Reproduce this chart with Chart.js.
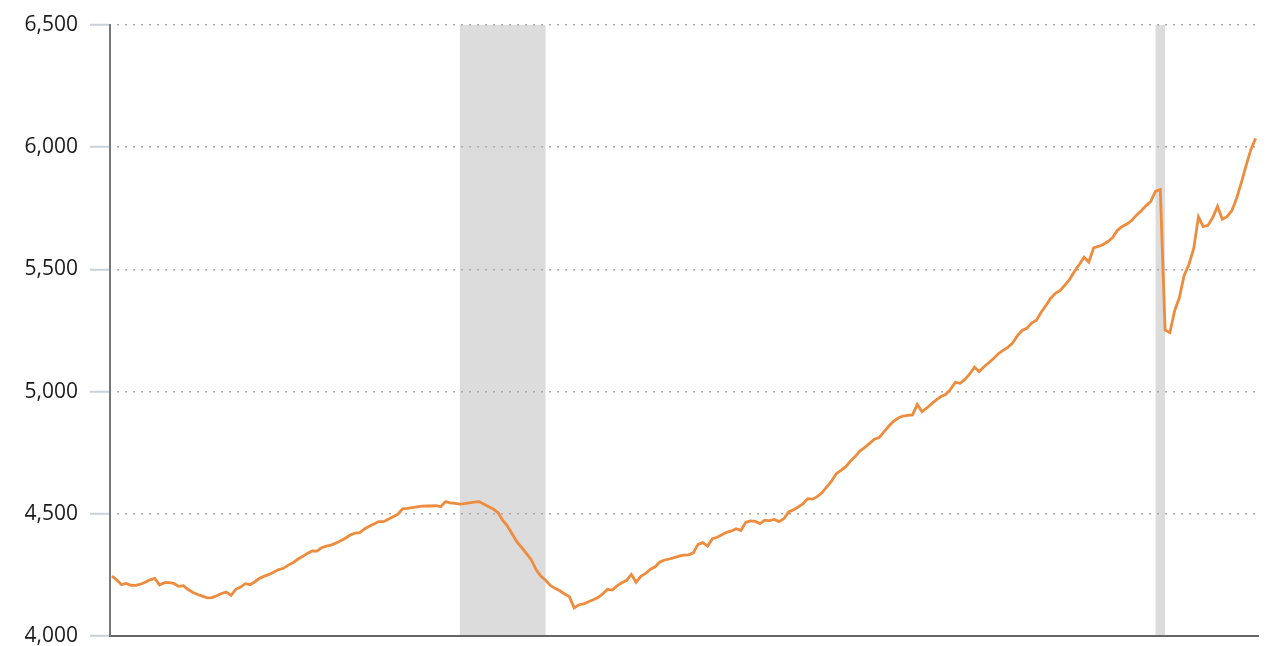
<!DOCTYPE html>
<html>
<head>
<meta charset="utf-8">
<script src="https://cdn.jsdelivr.net/npm/chart.js@4"></script>
<style>
  html, body { margin: 0; padding: 0; background: #fff; }
</style>
</head>
<body>
<canvas id="chart" width="1280" height="646"></canvas>
<script>
// monthly series, first month shown
const firstMonth = "2001-11";

const values = [
    4245, 4230, 4210, 4215, 4207, 4207, 4212, 4220, 4230, 4236,
    4209, 4218, 4218, 4215, 4203, 4206, 4190, 4178, 4170, 4163,
    4156, 4157, 4165, 4174, 4180, 4166, 4191, 4200, 4214, 4210,
    4222, 4236, 4245, 4252, 4262, 4272, 4277,
    4290, 4300, 4314, 4325, 4338, 4348, 4347, 4361, 4368, 4372,
    4380, 4390, 4400, 4413, 4421, 4423, 4438, 4449, 4458, 4468,
    4468, 4478, 4488, 4498, 4520, 4522, 4525, 4528, 4531, 4532,
    4532, 4533, 4529, 4550, 4545, 4543, 4540, 4542, 4545, 4548, 4550,
    4540, 4530, 4520, 4505, 4474, 4450, 4417, 4385, 4362, 4337,
    4312, 4272, 4245, 4228, 4207, 4195, 4185, 4172, 4161, 4115,
    4128, 4131, 4140, 4148, 4157, 4172, 4191, 4188, 4205, 4218,
    4228, 4252, 4220, 4244, 4256, 4273, 4283, 4303,
    4311, 4315, 4321, 4327, 4331, 4332, 4340, 4375, 4382, 4367,
    4398, 4404, 4414, 4424, 4430, 4439, 4432, 4465, 4471, 4469,
    4460, 4474, 4472, 4477, 4468, 4480, 4508, 4516, 4528, 4540,
    4562, 4560, 4570, 4586, 4610, 4634, 4664, 4678, 4693, 4716,
    4735, 4758, 4772, 4788, 4805, 4812, 4835, 4858, 4878, 4892,
    4900, 4903, 4905, 4948, 4918, 4933, 4950, 4966, 4980, 4989,
    5010, 5038, 5034, 5050, 5072, 5100, 5082, 5102, 5118, 5135,
    5155, 5169, 5181, 5199, 5228, 5250, 5259, 5280, 5292, 5325,
    5352, 5382, 5402, 5414, 5436, 5460, 5492, 5520, 5550, 5530,
    5588, 5594, 5602, 5614, 5630, 5660, 5676, 5686, 5700, 5722,
    5740, 5760, 5778, 5820, 5826,
    5252, 5241, 5330, 5385, 5475, 5520, 5585, 5715, 5675, 5680,
    5712, 5758, 5705, 5716, 5740, 5790, 5855, 5925, 5990, 6036
];

const recessionStarts = ["2007-12", "2020-02"];
const recessionEnds = ["2009-06", "2020-04"];

const yTicks = [4000, 4500, 5000, 5500, 6000, 6500];

// month labels "YYYY-MM", one per value
const months = [];
let yr = +firstMonth.slice(0, 4), mo = +firstMonth.slice(5, 7);
for (let i = 0; i < values.length; i++) {
    months.push(yr + "-" + String(mo).padStart(2, "0"));
    mo++;
    if (mo > 12) { mo = 1; yr++; }
}

const recessionShade = {
    id: "recessionShade",
    beforeDraw(chart) {
        const { ctx, chartArea, scales } = chart;
        ctx.save();
        ctx.fillStyle = "#dcdcdc";
        for (let i = 0; i < recessionStarts.length; i++) {
            const x1 = scales.x.getPixelForValue(months.indexOf(recessionStarts[i]));
            const x2 = scales.x.getPixelForValue(months.indexOf(recessionEnds[i]));
            ctx.fillRect(x1, chartArea.top, x2 - x1, chartArea.bottom - chartArea.top);
        }
        ctx.restore();
    }
};

new Chart(document.getElementById("chart").getContext("2d"), {
    type: "line",
    data: {
        datasets: [
            {
                label: "Value",
                data: values.map((v, i) => ({ x: i, y: v })),
                borderColor: "#ee8c3d",
                borderWidth: 2.8,
                pointRadius: 0,
                tension: 0,
                fill: false,
            },
        ],
    },
    options: {
        responsive: false,
        animation: false,
        devicePixelRatio: 1,
        layout: { padding: { top: 25, right: 22, bottom: 10, left: 0 } },
        plugins: {
            legend: { display: false },
            tooltip: { enabled: false },
        },
        scales: {
            x: {
                type: "linear",
                min: -0.4,
                max: 240.5,
                afterFit(scale) { scale.height = 0; },
                ticks: { display: false },
                grid: { display: false, drawTicks: false },
                border: { display: true, color: "#666", width: 2 },
            },
            y: {
                min: 4000,
                max: 6500,
                afterFit(scale) {
                    scale.width = 110;
                    scale.paddingTop = 0;
                    scale.paddingBottom = 0;
                },
                afterBuildTicks(scale) { scale.ticks = yTicks.map(v => ({ value: v })); },
                ticks: {
                    padding: 12,
                    color: "#1a1a1a",
                    font: { family: "'Open Sans'", size: 21 },
                    callback: v => v.toLocaleString("en-US"),
                },
                grid: {
                    color: "#a8a8a8",
                    lineWidth: 1.5,
                    tickLength: 20,
                    tickColor: "#c8d0dc",
                    tickWidth: 2,
                    tickBorderDash: [],
                },
                border: { display: true, color: "#777", width: 2, dash: [2, 6], dashOffset: -6 },
            },
        },
    },
    plugins: [recessionShade],
});
</script>
</body>
</html>
